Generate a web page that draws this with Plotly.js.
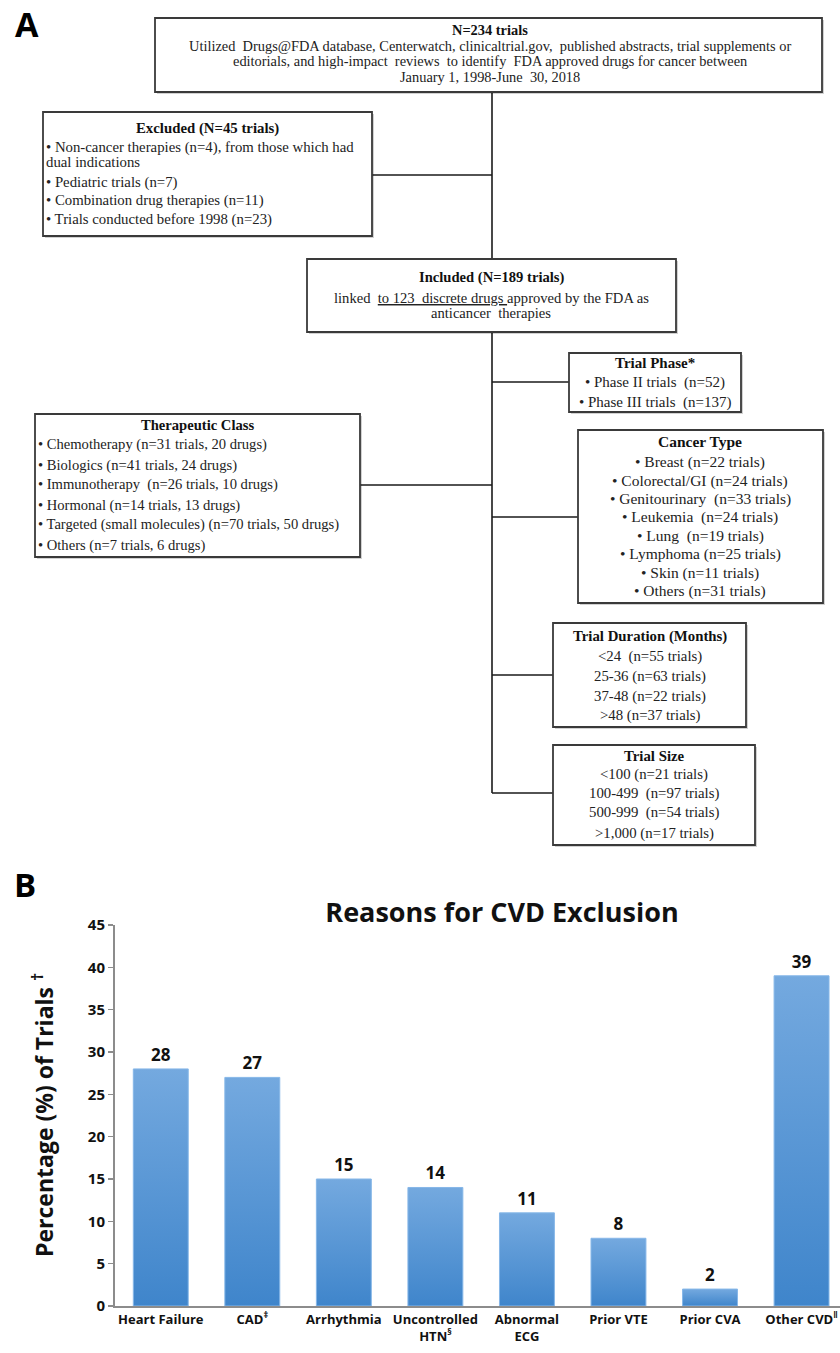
<!DOCTYPE html>
<html>
<head>
<meta charset="utf-8">
<script src="https://cdn.plot.ly/plotly-3.0.1.min.js"></script>
<style>
html,body{margin:0;padding:0;background:#fff;}
#chart{width:840px;height:1353px;}
</style>
</head>
<body>
<div id="chart"></div>
<script>
// ---------------- Panel B data ----------------
const categories = ['Heart Failure', 'CAD<sup>‡</sup>', 'Arrhythmia', 'Uncontrolled<br>HTN<sup>§</sup>',
                    'Abnormal<br>ECG', 'Prior VTE', 'Prior CVA', 'Other CVD<sup>‖</sup>'];
const percentages = [28, 27, 15, 14, 11, 8, 2, 39];
const yTickValues = [0, 5, 10, 15, 20, 25, 30, 35, 40, 45];
const chartTitle = 'Reasons for CVD Exclusion';
const yAxisTitle = 'Percentage (%) of Trials <sup>†</sup>';

// ---------------- Panel A text ----------------
const searchTitle = 'N=234 trials';
const searchLines = [
  'Utilized  Drugs@FDA database, Centerwatch, clinicaltrial.gov,  published abstracts, trial supplements or',
  'editorials, and high-impact  reviews  to identify  FDA approved drugs for cancer between',
  'January 1, 1998-June  30, 2018'
];
const excludedTitle = 'Excluded (N=45 trials)';
const excludedLines = [
  '• Non-cancer therapies (n=4), from those which had',
  'dual indications',
  '• Pediatric trials (n=7)',
  '• Combination drug therapies (n=11)',
  '• Trials conducted before 1998 (n=23)'
];
const includedTitle = 'Included (N=189 trials)';
const includedLines = [
  'linked  <span style="text-decoration:underline">to 123  discrete drugs </span>approved by the FDA as',
  'anticancer  therapies'
];
const phaseTitle = 'Trial Phase*';
const phaseLines = ['• Phase II trials  (n=52)', '• Phase III trials  (n=137)'];
const classTitle = 'Therapeutic Class';
const classLines = [
  '• Chemotherapy (n=31 trials, 20 drugs)',
  '• Biologics (n=41 trials, 24 drugs)',
  '• Immunotherapy  (n=26 trials, 10 drugs)',
  '• Hormonal (n=14 trials, 13 drugs)',
  '• Targeted (small molecules) (n=70 trials, 50 drugs)',
  '• Others (n=7 trials, 6 drugs)'
];
const cancerTitle = 'Cancer Type';
const cancerLines = [
  '• Breast (n=22 trials)',
  '• Colorectal/GI (n=24 trials)',
  '• Genitourinary  (n=33 trials)',
  '• Leukemia  (n=24 trials)',
  '• Lung  (n=19 trials)',
  '• Lymphoma (n=25 trials)',
  '• Skin (n=11 trials)',
  '• Others (n=31 trials)'
];
const durationTitle = 'Trial Duration (Months)';
const durationLines = ['<24  (n=55 trials)', '25-36 (n=63 trials)', '37-48 (n=22 trials)', '>48 (n=37 trials)'];
const sizeTitle = 'Trial Size';
const sizeLines = ['<100 (n=21 trials)', '100-499  (n=97 trials)', '500-999  (n=54 trials)', '>1,000 (n=17 trials)'];

// ---------------- Layout helpers (pixel -> paper) ----------------
const W = 840, H = 1353;
const px = x => x / W;
const py = y => 1 - y / H;

const serif = 'Liberation Serif, Times New Roman, serif';
const sans = 'Open Sans, Liberation Sans, sans-serif';

// box geometry (pixels): x0,x1,y0,y1, title y, line ys, text alignment, font size
const boxes = [
  {x0:155, x1:822, y0:18,  y1:92,  tx:490, ty:30,  ys:[46, 61.5, 77], align:'center', lx:490, fs:14.4, title:searchTitle, lines:searchLines},
  {x0:43,  x1:372, y0:112, y1:236, tx:207, ty:128, ys:[147, 162, 182, 200, 219], align:'left', lx:44, fs:14.8, title:excludedTitle, lines:excludedLines},
  {x0:307, x1:676, y0:259, y1:332, tx:491, ty:278, ys:[298, 313], align:'center', lx:491, fs:14.6, title:includedTitle, lines:includedLines},
  {x0:569, x1:741, y0:353, y1:412, tx:655, ty:363, ys:[382, 402], align:'center', lx:655, fs:15, title:phaseTitle, lines:phaseLines},
  {x0:35,  x1:360, y0:414, y1:557, tx:197, ty:425, ys:[445, 465, 485, 505, 525, 545], align:'left', lx:36, fs:14.6, title:classTitle, lines:classLines},
  {x0:578, x1:823, y0:430, y1:603, tx:700, ty:441, ys:[462, 481, 499, 517, 536, 554, 573, 591], align:'center', lx:700, fs:15.5, title:cancerTitle, lines:cancerLines},
  {x0:553, x1:746, y0:623, y1:727, tx:650, ty:636, ys:[656, 676, 696, 715], align:'center', lx:650, fs:14.8, title:durationTitle, lines:durationLines},
  {x0:553, x1:755, y0:745, y1:845, tx:654, ty:756, ys:[774, 794, 813, 833], align:'center', lx:654, fs:14.8, title:sizeTitle, lines:sizeLines}
];

const trunkX = 492;
const connectors = [
  [trunkX, 92, trunkX, 259],
  [trunkX, 332, trunkX, 793],
  [372, 175, trunkX, 175],
  [360, 485, trunkX, 485],
  [trunkX, 382, 569, 382],
  [trunkX, 517, 578, 517],
  [trunkX, 675, 553, 675],
  [trunkX, 793, 553, 793]
];

const shapes = [];
const annotations = [];

connectors.forEach(c => {
  shapes.push({type:'line', xref:'paper', yref:'paper', x0:px(c[0]), y0:py(c[1]), x1:px(c[2]), y1:py(c[3]),
               line:{color:'#1a1a1a', width:1.6}});
});

boxes.forEach(b => {
  shapes.push({type:'rect', xref:'paper', yref:'paper', x0:px(b.x0+2), x1:px(b.x1+2), y0:py(b.y1+2), y1:py(b.y0+2),
               line:{width:0}, fillcolor:'rgba(0,0,0,0.18)'});
  shapes.push({type:'rect', xref:'paper', yref:'paper', x0:px(b.x0), x1:px(b.x1), y0:py(b.y1), y1:py(b.y0),
               line:{color:'#3a3a3a', width:1.8}, fillcolor:'#ffffff'});
  annotations.push({xref:'paper', yref:'paper', x:px(b.tx), y:py(b.ty), xanchor:'center', yanchor:'middle',
                    text:'<b>' + b.title + '</b>', showarrow:false,
                    font:{family:serif, size:b.fs, color:'#111'}});
  b.lines.forEach((t, i) => {
    annotations.push({xref:'paper', yref:'paper', x:px(b.lx), y:py(b.ys[i]),
                      xanchor:b.align === 'left' ? 'left' : 'center', yanchor:'middle',
                      text:t, showarrow:false, font:{family:serif, size:b.fs, color:'#222'}});
  });
});

// Panel letters
annotations.push({xref:'paper', yref:'paper', x:px(27), y:py(24), xanchor:'center', yanchor:'middle',
                  text:'<b>A</b>', showarrow:false, font:{family:sans, size:34, color:'#000'}});
annotations.push({xref:'paper', yref:'paper', x:px(25), y:py(885), xanchor:'center', yanchor:'middle',
                  text:'<b>B</b>', showarrow:false, font:{family:sans, size:33, color:'#000'}});

// Y axis title
annotations.push({xref:'paper', yref:'paper', x:px(43), y:py(1115), xanchor:'center', yanchor:'middle',
                  textangle:-90, text:'<b>' + yAxisTitle + '</b>', showarrow:false,
                  font:{family:sans, size:23, color:'#111'}});

const trace = {
  type:'bar',
  x: categories,
  y: percentages,
  width: 0.6,
  marker:{color:'#5394d5', line:{color:'#86b7e8', width:1}},
  text: percentages.map(String),
  textposition:'outside',
  cliponaxis:false,
  textfont:{family:sans, size:17, color:'#111', weight:'bold'},
  hoverinfo:'x+y',
  showlegend:false
};

const layout = {
  width: W, height: H,
  margin:{l:0, r:0, t:0, b:0},
  paper_bgcolor:'#ffffff',
  plot_bgcolor:'#ffffff',
  showlegend:false,
  title:{text:'<b>' + chartTitle + '</b>', x:px(502), y:py(913), xanchor:'center', yanchor:'middle',
         font:{family:sans, size:27, color:'#111'}},
  xaxis:{
    domain:[px(115), 1],
    type:'category',
    range:[-0.5, 7.42],
    showline:true, linecolor:'#8c8c8c', linewidth:2,
    ticks:'', showgrid:false, zeroline:false,
    tickfont:{family:sans, size:13, color:'#111', weight:'bold'},
    ticklabeloverflow:'allow',
    fixedrange:true
  },
  yaxis:{
    domain:[1 - 1306 / H, 1 - 925 / H],
    range:[0, 45],
    tickvals: yTickValues,
    ticks:'outside', ticklen:5, tickcolor:'#8c8c8c', tickwidth:1.5,
    showline:true, linecolor:'#8c8c8c', linewidth:2,
    showgrid:false, zeroline:false,
    tickfont:{family:sans, size:15, color:'#111', weight:'bold'},
    fixedrange:true
  },
  shapes: shapes,
  annotations: annotations
};

Plotly.newPlot('chart', [trace], layout, {displayModeBar:false, staticPlot:true}).then(gd => {
  // vertical light-to-dark gradient on the bars, as in the reference
  const svg = gd.querySelector('svg.main-svg');
  const ns = 'http://www.w3.org/2000/svg';
  let defs = svg.querySelector('defs');
  if (!defs) { defs = document.createElementNS(ns, 'defs'); svg.insertBefore(defs, svg.firstChild); }
  const grad = document.createElementNS(ns, 'linearGradient');
  grad.setAttribute('id', 'barGrad');
  grad.setAttribute('x1', '0'); grad.setAttribute('y1', '0');
  grad.setAttribute('x2', '0'); grad.setAttribute('y2', '1');
  [['0%', '#74a9df'], ['100%', '#3f85cb']].forEach(s => {
    const stop = document.createElementNS(ns, 'stop');
    stop.setAttribute('offset', s[0]); stop.setAttribute('stop-color', s[1]);
    grad.appendChild(stop);
  });
  defs.appendChild(grad);
  gd.querySelectorAll('.barlayer .point path').forEach(p => { p.style.fill = 'url(#barGrad)'; });
});
</script>
</body>
</html>
